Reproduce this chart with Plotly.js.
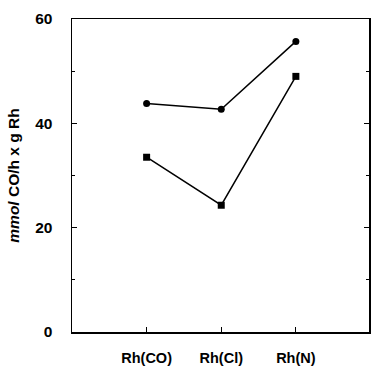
<!DOCTYPE html>
<html><head><meta charset="utf-8">
<script src="https://cdn.plot.ly/plotly-3.0.1.min.js"></script>
<style>html,body{margin:0;padding:0;background:#fff}</style>
</head><body><div id="chart" style="width:371px;height:367px"></div>
<script>
const categories = ["Rh(CO)", "Rh(Cl)", "Rh(N)"];
const catPositions = [1, 2, 3];
const seriesCircle = [43.8, 42.7, 55.7];
const seriesSquare = [33.5, 24.3, 49.0];
const yTickVals = [0, 20, 40, 60];

const common = {mode: 'lines+markers', line: {color: '#000', width: 1.5}, showlegend: false, hoverinfo: 'none'};
const data = [
  Object.assign({x: catPositions, y: seriesCircle, marker: {symbol: 'circle', size: 7, color: '#000'}}, common),
  Object.assign({x: catPositions, y: seriesSquare, marker: {symbol: 'square', size: 7, color: '#000'}}, common)
];
const layout = {
  width: 371, height: 367,
  margin: {l: 72, r: 2, t: 19, b: 35},
  paper_bgcolor: '#fff', plot_bgcolor: '#fff',
  font: {family: 'Liberation Sans, Arial, sans-serif', color: '#000'},
  xaxis: {
    range: [0, 3.98], tickvals: catPositions, ticktext: categories,
    ticks: 'inside', ticklen: 5, tickwidth: 1.2, tickcolor: '#000',
    showline: true, linecolor: '#000', linewidth: 1.5, mirror: true,
    showgrid: false, zeroline: false,
    tickfont: {size: 14.5, family: 'Liberation Sans, Arial, sans-serif', weight: 'bold'},
    ticklabelstandoff: 12
  },
  yaxis: {
    range: [0, 60], tickvals: yTickVals,
    ticks: 'inside', ticklen: 5, tickwidth: 1.2, tickcolor: '#000',
    showline: true, linecolor: '#000', linewidth: 1.5, mirror: 'ticks',
    showgrid: false, zeroline: false,
    minor: {ticks: 'inside', dtick: 10, ticklen: 3, tickcolor: '#000', tickwidth: 1},
    tickfont: {size: 15.5, family: 'Liberation Sans, Arial, sans-serif', weight: 'bold'},
    ticklabelstandoff: 15,
    title: {text: '<i>mmol</i> CO/h x g Rh', font: {size: 15.5, family: 'Liberation Sans, Arial, sans-serif', weight: 'bold'}, standoff: 11}
  }
};
Plotly.newPlot('chart', data, layout, {staticPlot: true, displayModeBar: false});
</script></body></html>
